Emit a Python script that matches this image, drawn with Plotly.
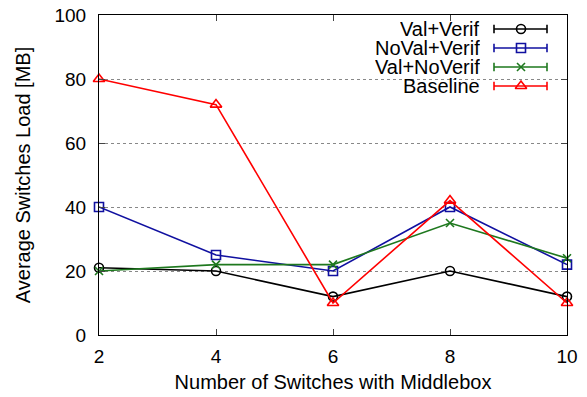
import plotly.graph_objects as go

switches = [2, 4, 6, 8, 10]
val_verif = [21, 20, 12, 20, 12]
noval_verif = [40, 25, 20, 40, 22]
val_noverif = [20, 22, 22, 35, 24]
baseline = [80, 72, 10, 42, 10]

series_names = ["Val+Verif", "NoVal+Verif", "Val+NoVerif", "Baseline"]
series_values = [val_verif, noval_verif, val_noverif, baseline]
colors = ["#000000", "#1010A0", "#1E781E", "#FF0000"]
symbols = ["circle-open", "square-open", "x-thin-open", "triangle-up-open"]
sizes = [9, 9, 8, 10]

W, H = 587, 397
L, R, T, B = 99, 20, 15, 62
FONT = "Liberation Sans, Arial, Helvetica, sans-serif"

fig = go.Figure()
for name, vals, c, s, sz in zip(series_names, series_values, colors, symbols, sizes):
    fig.add_trace(go.Scatter(
        x=switches, y=vals, mode="lines+markers", name=name,
        line=dict(color=c, width=1.6),
        marker=dict(symbol=s, size=sz, color=c, line=dict(color=c, width=1.6)),
        showlegend=False, cliponaxis=False))

# custom legend (text right-aligned, sample on the right) on overlay paper-like axes
pw, ph = W - L - R, H - T - B
def fx(px):
    return (px - L) / pw
def fy(py):
    return (H - B - py) / ph

row_y = [29, 48, 67, 86]
x0, x1, xm = fx(494), fx(547), fx(521)
for name, c, s, sz, py in zip(series_names, colors, symbols, sizes, row_y):
    yy = fy(py)
    fig.add_trace(go.Scatter(
        x=[x0, x1], y=[yy, yy], xaxis="x2", yaxis="y2", mode="lines+markers",
        line=dict(color=c, width=1.6),
        marker=dict(symbol="line-ns", size=6, line=dict(color=c, width=1.6)),
        showlegend=False, hoverinfo="skip"))
    fig.add_trace(go.Scatter(
        x=[xm], y=[yy], xaxis="x2", yaxis="y2", mode="markers",
        marker=dict(symbol=s, size=sz, color=c, line=dict(color=c, width=1.6)),
        showlegend=False, hoverinfo="skip"))
    fig.add_annotation(x=fx(482), y=yy, xref="x2", yref="y2", text=name,
                       showarrow=False, xanchor="right", yanchor="middle",
                       height=18, font=dict(family=FONT, size=20, color="#000000"))

# white legend background covering gridline
fig.add_shape(type="rect", xref="x2", yref="y2", x0=fx(345), x1=fx(556),
              y0=fy(96), y1=fy(19), fillcolor="white", line=dict(width=0),
              layer="below")

fig.update_layout(
    width=W, height=H,
    margin=dict(l=L, r=R, t=T, b=B, autoexpand=False),
    paper_bgcolor="white", plot_bgcolor="white",
    font=dict(family=FONT, size=19, color="#000000"),
    xaxis=dict(range=[2, 10], tickvals=switches, ticks="inside", ticklen=6,
               showgrid=False, zeroline=False, showline=True, linecolor="black",
               linewidth=1, mirror="allticks", tickfont=dict(size=19),
               ticklabelstandoff=4, automargin=False,
               title=dict(text="Number of Switches with Middlebox",
                          font=dict(size=20), standoff=9)),
    yaxis=dict(range=[0, 100], tickvals=[0, 20, 40, 60, 80, 100], ticks="inside",
               ticklen=6, showgrid=True, gridcolor="#888888", griddash="dot",
               gridwidth=0.8, zeroline=False, showline=True, linecolor="black",
               linewidth=1, mirror="allticks", tickfont=dict(size=19),
               ticklabelstandoff=8, automargin=False,
               title=dict(text="Average Switches Load [MB]",
                          font=dict(size=20), standoff=18)),
    xaxis2=dict(range=[0, 1], overlaying="x", visible=False, fixedrange=True),
    yaxis2=dict(range=[0, 1], overlaying="y", visible=False, fixedrange=True),
)

fig.write_html("out.html")
